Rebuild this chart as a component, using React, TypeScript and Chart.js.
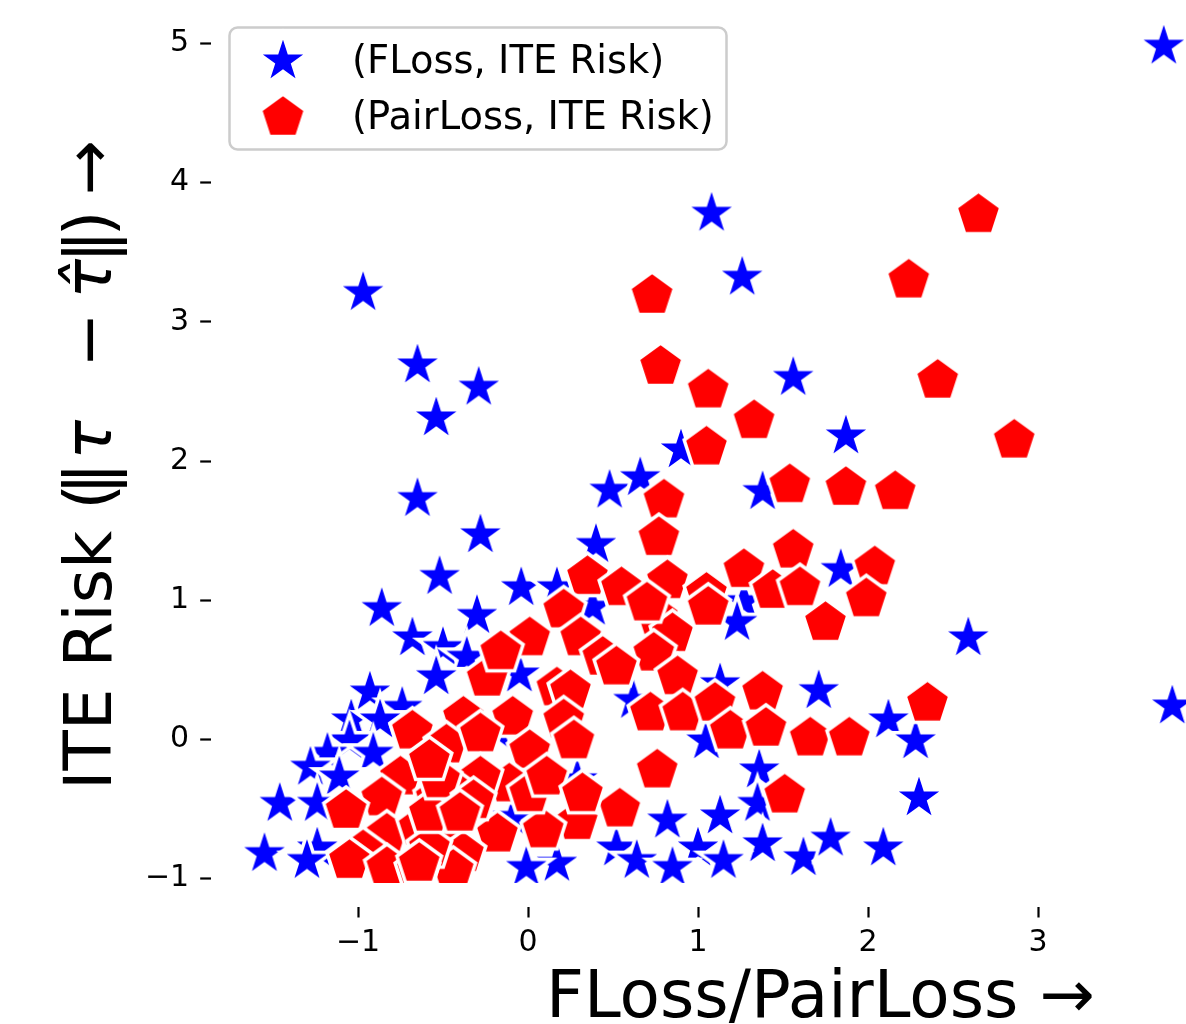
import React, { useEffect, useRef } from 'react';
import { Chart, registerables } from 'chart.js';

Chart.register(...registerables);

// ---- data ----
const xTicks = [-1, 0, 1, 2, 3];
const yTicks = [-1, 0, 1, 2, 3, 4, 5];

const legendLabels = ['(FLoss, ITE Risk)', '(PairLoss, ITE Risk)'];
const xTitle = 'FLoss/PairLoss \u2192';

// FLoss vs ITE risk (blue stars)
const fLossX = [3.74, 1.08, 1.26, -0.97, -0.65, -0.29, -0.54, 1.56, 1.87, 0.90, 0.48, 0.66, 1.38, -0.65, -0.28, 0.40, -0.52, -0.04, 1.84, 1.27, -0.86, -0.30, -0.68, 0.17, 0.38, -0.50, -0.36, -0.54, -0.05, -0.93, -0.74, -1.04, -0.87, -1.05, -1.18, -0.91, -1.28, -1.11, -1.46, -1.24, -1.55, -1.24, -1.30, -0.18, 0.29, -0.09, 0.17, -0.01, 0.52, 0.64, 0.62, 1.71, 2.12, 2.28, 1.05, 1.13, 1.36, 1.35, 0.82, 1.13, 1.00, 1.38, 1.62, 1.78, 2.09, 2.30, 0.85, 1.15, 2.59, 3.79, 1.23];
const fLossY = [4.98, 3.78, 3.32, 3.21, 2.69, 2.53, 2.31, 2.60, 2.18, 2.08, 1.79, 1.88, 1.78, 1.73, 1.47, 1.40, 1.17, 1.09, 1.22, 0.99, 0.94, 0.89, 0.73, 1.09, 0.95, 0.66, 0.59, 0.45, 0.47, 0.34, 0.23, 0.14, 0.14, -0.01, -0.10, -0.10, -0.20, -0.27, -0.46, -0.46, -0.82, -0.78, -0.87, 0.06, -0.29, -0.56, -0.89, -0.92, -0.78, -0.87, 0.28, 0.35, 0.14, -0.01, -0.01, 0.40, -0.22, -0.46, -0.58, -0.55, -0.78, -0.75, -0.85, -0.71, -0.78, -0.42, -0.92, -0.87, 0.73, 0.24, 0.84];

// PairLoss vs ITE risk (red pentagons)
const pairX = [2.65, 2.24, 0.73, 0.78, 1.06, 1.33, 2.41, 2.86, 1.05, 1.54, 1.87, 2.16, 0.80, 0.77, 1.56, 0.35, 0.55, 0.82, 1.05, 1.27, 1.44, 1.60, 2.04, 1.99, 1.75, 0.76, 0.85, 0.74, 0.88, 0.72, 0.91, 1.10, 1.19, 1.38, 1.40, 1.66, 1.89, 2.35, 0.76, 1.51, 0.54, 0.29, 0.09, -0.18, 0.70, 0.21, 0.01, 0.31, -0.24, -0.16, 0.17, 0.25, 0.44, 0.52, -0.38, -0.09, 0.21, -0.68, -0.48, -0.28, 0.01, 0.27, -0.11, -0.28, -0.46, -0.42, 0.01, -0.38, -0.44, -0.75, -0.86, -1.07, -0.54, -0.83, -0.97, -1.05, -0.83, -0.64, -0.58, -0.65, -0.58, -0.52, 0.11, 0.32, -0.32, -0.40, -0.64, -0.58, 1.06];
const pairY = [3.77, 3.30, 3.19, 2.68, 2.51, 2.29, 2.58, 2.15, 2.10, 1.83, 1.81, 1.78, 1.72, 1.45, 1.36, 1.17, 1.09, 1.14, 1.05, 1.22, 1.07, 1.09, 1.24, 1.01, 0.84, 0.88, 0.76, 0.62, 0.45, 0.19, 0.19, 0.26, 0.06, 0.34, 0.08, 0.01, 0.01, 0.26, -0.22, -0.40, -0.50, -0.59, -0.65, -0.68, 0.98, 0.93, 0.73, 0.73, 0.44, 0.63, 0.37, 0.35, 0.59, 0.52, 0.16, 0.16, 0.14, 0.06, -0.04, 0.04, -0.08, -0.01, -0.32, -0.27, -0.35, -0.58, -0.39, -0.82, -0.94, -0.27, -0.42, -0.51, -0.42, -0.68, -0.80, -0.87, -0.92, -0.63, -0.78, -0.94, -0.53, -0.29, -0.27, -0.39, -0.44, -0.53, -0.89, -0.15, 0.95];

// ---- geometry targets (pixel mapping of the reference) ----
const W = 1186;
const H = 1024;
const X0 = 528; // pixel of x = 0
const XS = 170; // px per x unit
const Y0 = 739.5; // pixel of y = 0
const YS = 139.2; // px per y unit
const AXIS_LEFT = 210.7;
const AXIS_BOTTOM = 907;
const SPINE_OFFSET = 24;

const FONT = "'DejaVu Sans', 'Liberation Sans', sans-serif";

function fmt(v: number): string {
  return v < 0 ? '\u2212' + String(Math.abs(v)) : String(v);
}

function makeStar(R: number, lw: number, color: string): HTMLCanvasElement {
  const pad = Math.ceil(lw / 2 / Math.sin(Math.PI / 10)) + 2;
  const size = Math.round(2 * (R + pad));
  const c = document.createElement('canvas');
  c.width = size;
  c.height = size;
  const ctx = c.getContext('2d')!;
  const cx = size / 2;
  const cy = size / 2;
  const r = R * 0.381966;
  ctx.beginPath();
  for (let i = 0; i < 10; i++) {
    const a = -Math.PI / 2 + (i * Math.PI) / 5;
    const rr = i % 2 === 0 ? R : r;
    const px = cx + rr * Math.cos(a);
    const py = cy + rr * Math.sin(a);
    if (i === 0) ctx.moveTo(px, py);
    else ctx.lineTo(px, py);
  }
  ctx.closePath();
  ctx.fillStyle = color;
  ctx.fill();
  if (lw > 0) {
    ctx.lineJoin = 'miter';
    ctx.miterLimit = 10;
    ctx.lineWidth = lw;
    ctx.strokeStyle = '#ffffff';
    ctx.stroke();
  }
  return c;
}

function makePentagon(R: number, lw: number, color: string): HTMLCanvasElement {
  const pad = Math.ceil(lw / 2 / Math.sin((54 * Math.PI) / 180)) + 2;
  const size = Math.round(2 * (R + pad));
  const c = document.createElement('canvas');
  c.width = size;
  c.height = size;
  const ctx = c.getContext('2d')!;
  const cx = size / 2;
  const cy = size / 2;
  ctx.beginPath();
  for (let i = 0; i < 5; i++) {
    const a = -Math.PI / 2 + (i * 2 * Math.PI) / 5;
    const px = cx + R * Math.cos(a);
    const py = cy + R * Math.sin(a);
    if (i === 0) ctx.moveTo(px, py);
    else ctx.lineTo(px, py);
  }
  ctx.closePath();
  ctx.fillStyle = color;
  ctx.fill();
  if (lw > 0) {
    ctx.lineJoin = 'miter';
    ctx.miterLimit = 10;
    ctx.lineWidth = lw;
    ctx.strokeStyle = '#ffffff';
    ctx.stroke();
  }
  return c;
}

export default function App() {
  const ref = useRef<HTMLCanvasElement | null>(null);

  useEffect(() => {
    const canvas = ref.current;
    if (!canvas) return;

    const star = makeStar(27, 3.5, '#0000ff');
    const pent = makePentagon(23.5, 3.5, '#ff0000');

    const decor = {
      id: 'decor',
      afterDraw(chart: any) {
        const ctx: CanvasRenderingContext2D = chart.ctx;
        ctx.save();
        // legend
        const lx = 229.5, ly = 27.5, lw = 497, lh = 122, rad = 8;
        ctx.beginPath();
        ctx.moveTo(lx + rad, ly);
        ctx.lineTo(lx + lw - rad, ly);
        ctx.arcTo(lx + lw, ly, lx + lw, ly + rad, rad);
        ctx.lineTo(lx + lw, ly + lh - rad);
        ctx.arcTo(lx + lw, ly + lh, lx + lw - rad, ly + lh, rad);
        ctx.lineTo(lx + rad, ly + lh);
        ctx.arcTo(lx, ly + lh, lx, ly + lh - rad, rad);
        ctx.lineTo(lx, ly + rad);
        ctx.arcTo(lx, ly, lx + rad, ly, rad);
        ctx.closePath();
        ctx.fillStyle = 'rgba(255,255,255,0.8)';
        ctx.fill();
        ctx.lineWidth = 2.5;
        ctx.strokeStyle = '#cccccc';
        ctx.stroke();

        ctx.drawImage(star, 283 - star.width / 2, 61 - star.height / 2);
        ctx.drawImage(pent, 283 - pent.width / 2, 117.5 - pent.height / 2);

        ctx.fillStyle = '#000';
        ctx.font = `38.5px ${FONT}`;
        ctx.textAlign = 'left';
        ctx.textBaseline = 'alphabetic';
        ctx.fillText(legendLabels[0], 352, 72.5);
        ctx.fillText(legendLabels[1], 352, 128.5);

        // x title
        ctx.font = `66px ${FONT}`;
        ctx.fillText(xTitle, 546, 1017);

        // y title (rotated pieces)
        const bx = 111;
        const rot = (text: string, font: string, pageY: number, align: CanvasTextAlign) => {
          ctx.save();
          ctx.translate(bx, pageY);
          ctx.rotate(-Math.PI / 2);
          ctx.font = font;
          ctx.textAlign = align;
          ctx.textBaseline = 'alphabetic';
          ctx.fillText(text, 0, 0);
          ctx.restore();
        };
        const nf = `66px ${FONT}`;
        const itf = `italic 66px ${FONT}`;
        rot('ITE Risk (', nf, 790, 'left');
        rot('\u2016', nf, 478.5, 'center');
        rot('\u03c4', itf, 440, 'center');
        rot('\u2212', nf, 340, 'center');
        rot('\u03c4\u0302', itf, 279, 'center');
        rot('\u2016', nf, 246.5, 'center');
        rot(')', nf, 223.5, 'center');
        rot('\u2192', nf, 167.5, 'center');
        ctx.restore();
      },
    };

    const clip = { left: -SPINE_OFFSET, top: false, right: false, bottom: -SPINE_OFFSET } as any;

    const config: any = {
      type: 'scatter',
      data: {
        datasets: [
          {
            label: legendLabels[0],
            data: fLossX.map((x, i) => ({ x, y: fLossY[i] })),
            pointStyle: star,
            order: 2,
            clip,
          },
          {
            label: legendLabels[1],
            data: pairX.map((x, i) => ({ x, y: pairY[i] })),
            pointStyle: pent,
            order: 1,
            clip,
          },
        ],
      },
      options: {
        responsive: false,
        animation: false,
        events: [],
        devicePixelRatio: 1,
        layout: { padding: 0 },
        plugins: {
          legend: { display: false },
          tooltip: { enabled: false },
          title: { display: false },
        },
        scales: {
          x: {
            type: 'linear',
            position: 'bottom',
            min: (AXIS_LEFT - X0) / XS,
            max: (W - X0) / XS,
            afterBuildTicks: (axis: any) => {
              axis.ticks = xTicks.map((v) => ({ value: v }));
            },
            afterFit: (axis: any) => {
              axis.height = H - AXIS_BOTTOM;
            },
            border: { display: false },
            grid: {
              display: true,
              drawOnChartArea: false,
              drawTicks: true,
              tickLength: 10.5,
              tickWidth: 2.2,
              tickColor: '#000',
            },
            ticks: {
              autoSkip: false,
              maxRotation: 0,
              minRotation: 0,
              padding: 7.5,
              color: '#000',
              font: { size: 30, family: FONT },
              callback: (v: number) => fmt(v),
            },
          },
          y: {
            type: 'linear',
            position: 'left',
            min: (Y0 - AXIS_BOTTOM) / YS,
            max: Y0 / YS,
            afterBuildTicks: (axis: any) => {
              axis.ticks = yTicks.map((v) => ({ value: v }));
            },
            afterFit: (axis: any) => {
              axis.width = AXIS_LEFT;
            },
            border: { display: false },
            grid: {
              display: true,
              drawOnChartArea: false,
              drawTicks: true,
              tickLength: 10.5,
              tickWidth: 2.2,
              tickColor: '#000',
            },
            ticks: {
              autoSkip: false,
              padding: 11,
              color: '#000',
              font: { size: 30, family: FONT },
              callback: (v: number) => fmt(v),
            },
          },
        },
      },
      plugins: [decor],
    };

    const chart = new Chart(canvas, config);
    const a = chart.chartArea;
    chart.options.scales!.x!.min = (a.left - X0) / XS;
    chart.options.scales!.x!.max = (a.right - X0) / XS;
    chart.options.scales!.y!.min = (Y0 - a.bottom) / YS;
    chart.options.scales!.y!.max = (Y0 - a.top) / YS;
    chart.update();

    return () => {
      chart.destroy();
    };
  }, []);

  return (
    <div style={{ position: 'absolute', left: 0, top: 0, width: W, height: H, background: '#fff' }}>
      <canvas ref={ref} width={W} height={H} style={{ width: W, height: H, display: 'block' }} />
    </div>
  );
}
